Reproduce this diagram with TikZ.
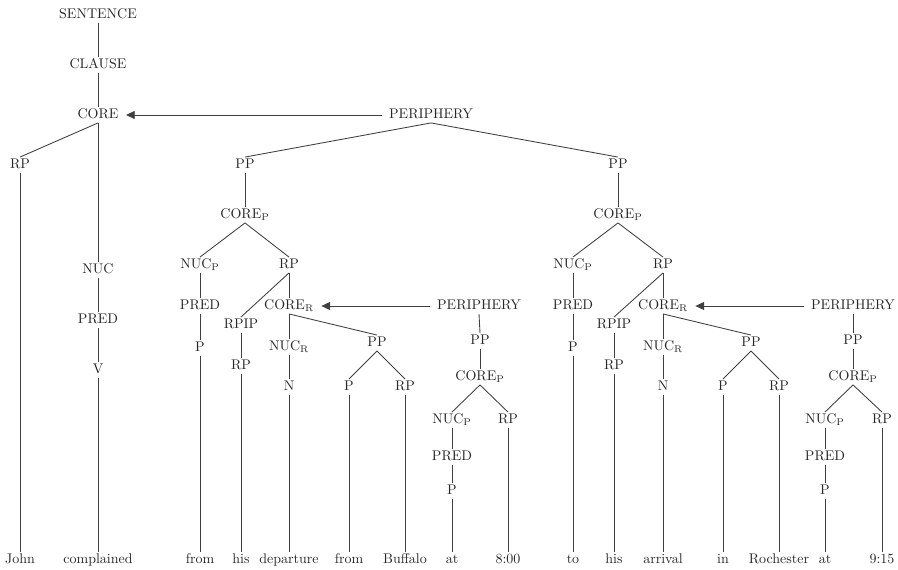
\documentclass[tikz,border=0pt]{standalone}
\usepackage{tikz}
\usetikzlibrary{arrows.meta}
\begin{document}
\begin{tikzpicture}[x=0.75pt,y=-0.75pt,
  lbl/.style={inner sep=1.5pt, text=black!85, text height=7pt, text depth=1.5pt,
    font=\fontsize{10.5}{12}\selectfont},
  br/.style={draw=black!75, line width=0.65pt},
  per/.style={br, -{Triangle[length=6.5pt,width=6pt]}, shorten <=4pt, shorten >=4pt}]
\useasboundingbox (0,0) rectangle (898,570);
%%%%% START %%%%%

\node[lbl] (sent) at (98,15) {SENTENCE};
\node[lbl] (clause) at (98,65) {CLAUSE};
\node[lbl] (core) at (98,115) {CORE};
\node[lbl] (peri) at (431,115) {PERIPHERY};

\node[lbl] (rpA) at (20,165) {RP};
\node[lbl] (nuc) at (98,270) {NUC};
\node[lbl] (predA) at (98,320) {PRED};
\node[lbl] (v) at (98,370) {V};

\node[lbl] (ppL) at (245,165) {PP};
\node[lbl] (ppR) at (618,165) {PP};

%%% left PP
\node[lbl] (corePL) at (245,215) {CORE\textsubscript{P}};
\node[lbl] (nucPL) at (200,265) {NUC\textsubscript{P}};
\node[lbl] (rpL) at (289,265) {RP};
\node[lbl] (predL) at (200,306) {PRED};
\node[lbl] (coreRL) at (289,306) {CORE\textsubscript{R}};
\node[lbl] (periL) at (479,306) {PERIPHERY};
\node[lbl] (rpipL) at (241,325) {RPIP};
\node[lbl] (pL) at (200,348) {P};
\node[lbl] (nucRL) at (289,347) {NUC\textsubscript{R}};
\node[lbl] (ppL2) at (377,343) {PP};
\node[lbl] (ppL3) at (480,341) {PP};
\node[lbl] (rpL2) at (241,366) {RP};
\node[lbl] (nL) at (289,387) {N};
\node[lbl] (pL2) at (349,387) {P};
\node[lbl] (rpL3) at (405,387) {RP};
\node[lbl] (corePL2) at (480,377) {CORE\textsubscript{P}};
\node[lbl] (nucPL2) at (452,420) {NUC\textsubscript{P}};
\node[lbl] (rpL4) at (508,420) {RP};
\node[lbl] (predL2) at (452,457) {PRED};
\node[lbl] (pL3) at (452,491) {P};

%%% right PP
\node[lbl] (corePR) at (618,215) {CORE\textsubscript{P}};
\node[lbl] (nucPR) at (573,265) {NUC\textsubscript{P}};
\node[lbl] (rpR) at (663,265) {RP};
\node[lbl] (predR) at (573,306) {PRED};
\node[lbl] (coreRR) at (663,306) {CORE\textsubscript{R}};
\node[lbl] (periR) at (853,306) {PERIPHERY};
\node[lbl] (rpipR) at (614,325) {RPIP};
\node[lbl] (pR) at (573,348) {P};
\node[lbl] (nucRR) at (663,347) {NUC\textsubscript{R}};
\node[lbl] (ppR2) at (751,343) {PP};
\node[lbl] (ppR3) at (853,341) {PP};
\node[lbl] (rpR2) at (614,366) {RP};
\node[lbl] (nR) at (663,387) {N};
\node[lbl] (pR2) at (723,387) {P};
\node[lbl] (rpR3) at (779,387) {RP};
\node[lbl] (corePR2) at (853,377) {CORE\textsubscript{P}};
\node[lbl] (nucPR2) at (825,420) {NUC\textsubscript{P}};
\node[lbl] (rpR4) at (882,420) {RP};
\node[lbl] (predR2) at (825,457) {PRED};
\node[lbl] (pR3) at (825,491) {P};

%%% words
\node[lbl] (w1) at (20,560) {John};
\node[lbl] (w2) at (98,560) {complained};
\node[lbl] (w3) at (200,560) {from};
\node[lbl] (w4) at (241,560) {his};
\node[lbl] (w5) at (289,560) {departure};
\node[lbl] (w6) at (349,560) {from};
\node[lbl] (w7) at (405,560) {Buffalo};
\node[lbl] (w8) at (452,560) {at};
\node[lbl] (w9) at (508,560) {8:00};
\node[lbl] (w10) at (573,560) {to};
\node[lbl] (w11) at (614,560) {his};
\node[lbl] (w12) at (663,560) {arrival};
\node[lbl] (w13) at (723,560) {in};
\node[lbl] (w14) at (779,560) {Rochester};
\node[lbl] (w15) at (825,560) {at};
\node[lbl] (w16) at (882,560) {9:15};

%%% branches
\draw[br] (sent.south) -- (clause.north);
\draw[br] (clause.south) -- (core.north);
\draw[br] (core.south) -- (rpA.north);
\draw[br] (core.south) -- (nuc.north);
\draw[br] (nuc.south) -- (predA.north);
\draw[br] (predA.south) -- (v.north);
\draw[br] (v.south) -- (w2.north);
\draw[br] (rpA.south) -- (w1.north);
\draw[br] (peri.south) -- (ppL.north);
\draw[br] (peri.south) -- (ppR.north);

\draw[br] (ppL.south) -- (corePL.north);
\draw[br] (corePL.south) -- (nucPL.north);
\draw[br] (corePL.south) -- (rpL.north);
\draw[br] (nucPL.south) -- (predL.north);
\draw[br] (predL.south) -- (pL.north);
\draw[br] (pL.south) -- (w3.north);
\draw[br] (rpL.south) -- (rpipL.north);
\draw[br] (rpL.south) -- (coreRL.north);
\draw[br] (rpipL.south) -- (rpL2.north);
\draw[br] (rpL2.south) -- (w4.north);
\draw[br] (coreRL.south) -- (nucRL.north);
\draw[br] (coreRL.south) -- (ppL2.north);
\draw[br] (nucRL.south) -- (nL.north);
\draw[br] (nL.south) -- (w5.north);
\draw[br] (ppL2.south) -- (pL2.north);
\draw[br] (ppL2.south) -- (rpL3.north);
\draw[br] (pL2.south) -- (w6.north);
\draw[br] (rpL3.south) -- (w7.north);
\draw[br] (periL.south) -- (ppL3.north);
\draw[br] (ppL3.south) -- (corePL2.north);
\draw[br] (corePL2.south) -- (nucPL2.north);
\draw[br] (corePL2.south) -- (rpL4.north);
\draw[br] (nucPL2.south) -- (predL2.north);
\draw[br] (predL2.south) -- (pL3.north);
\draw[br] (pL3.south) -- (w8.north);
\draw[br] (rpL4.south) -- (w9.north);

\draw[br] (ppR.south) -- (corePR.north);
\draw[br] (corePR.south) -- (nucPR.north);
\draw[br] (corePR.south) -- (rpR.north);
\draw[br] (nucPR.south) -- (predR.north);
\draw[br] (predR.south) -- (pR.north);
\draw[br] (pR.south) -- (w10.north);
\draw[br] (rpR.south) -- (rpipR.north);
\draw[br] (rpR.south) -- (coreRR.north);
\draw[br] (rpipR.south) -- (rpR2.north);
\draw[br] (rpR2.south) -- (w11.north);
\draw[br] (coreRR.south) -- (nucRR.north);
\draw[br] (coreRR.south) -- (ppR2.north);
\draw[br] (nucRR.south) -- (nR.north);
\draw[br] (nR.south) -- (w12.north);
\draw[br] (ppR2.south) -- (pR2.north);
\draw[br] (ppR2.south) -- (rpR3.north);
\draw[br] (pR2.south) -- (w13.north);
\draw[br] (rpR3.south) -- (w14.north);
\draw[br] (periR.south) -- (ppR3.north);
\draw[br] (ppR3.south) -- (corePR2.north);
\draw[br] (corePR2.south) -- (nucPR2.north);
\draw[br] (corePR2.south) -- (rpR4.north);
\draw[br] (nucPR2.south) -- (predR2.north);
\draw[br] (predR2.south) -- (pR3.north);
\draw[br] (pR3.south) -- (w15.north);
\draw[br] (rpR4.south) -- (w16.north);

%%% periphery arrows
\draw[per] (peri.west) -- (core.east);
\draw[per] (periL.west) -- (coreRL.east);
\draw[per] (periR.west) -- (coreRR.east);

%%%%% END %%%%%
\end{tikzpicture}
\end{document}
